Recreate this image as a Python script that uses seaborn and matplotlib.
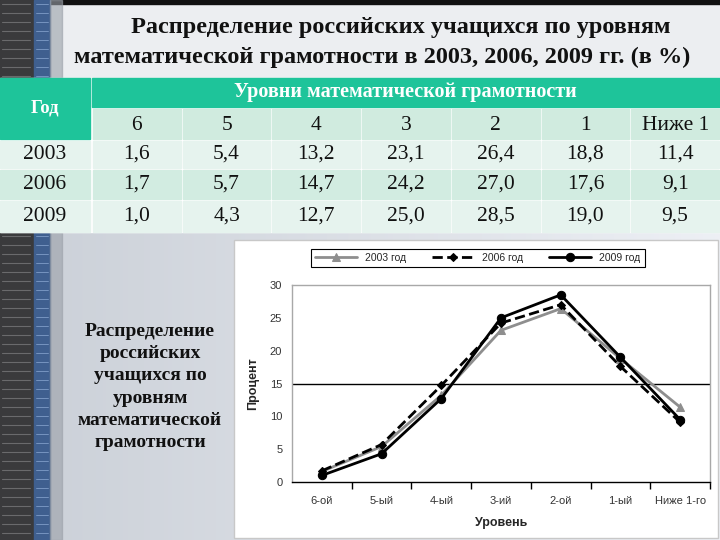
import matplotlib
matplotlib.use("Agg")
import matplotlib.pyplot as plt
import seaborn as sns
import numpy as np
import pandas as pd
from matplotlib.patches import Rectangle

# data from the slide
levels_table = ["6", "5", "4", "3", "2", "1", "Ниже 1"]
levels_axis = ["6-ой", "5-ый", "4-ый", "3-ий", "2-ой", "1-ый", "Ниже 1-го"]
years = ["2003", "2006", "2009"]
v2003 = [1.6, 5.4, 13.2, 23.1, 26.4, 18.8, 11.4]
v2006 = [1.7, 5.7, 14.7, 24.2, 27.0, 17.6, 9.1]
v2009 = [1.0, 4.3, 12.7, 25.0, 28.5, 19.0, 9.5]
values = {"2003": v2003, "2006": v2006, "2009": v2009}

sns.set_style("white")
serif = ["Liberation Serif", "DejaVu Serif"]
sans = ["Liberation Sans", "DejaVu Sans"]
plt.rcParams["font.family"] = sans

fig = plt.figure(figsize=(7.2, 5.4), dpi=100)

# background layer in pixel coordinates
bg = fig.add_axes([0, 0, 1, 1], zorder=0)
bg.set_xlim(0, 720)
bg.set_ylim(540, 0)
bg.axis("off")
t = np.linspace(0, 1, 256)[None, :, None]
c0 = np.array([0.80, 0.82, 0.85])[None, None, :]
c1 = np.array([0.93, 0.94, 0.96])[None, None, :]
grad = np.repeat(c0 + (c1 - c0) * t, 8, axis=0)
bg.imshow(grad, extent=[40, 720, 540, 0], aspect="auto")
bg.add_patch(Rectangle((40, 0), 680, 78, color="#eceef1"))
bg.add_patch(Rectangle((0, 0), 720, 4, color="#111111"))
# left decorative strip
for y0, y1 in [(0, 78), (232, 540)]:
    bg.add_patch(Rectangle((0, y0), 34, y1 - y0, color="#3a3a3c"))
    bg.add_patch(Rectangle((34, y0), 16, y1 - y0, color="#3f5f8f"))
    bg.add_patch(Rectangle((50, y0), 12, y1 - y0, color="#9aa0a8", alpha=0.6))
    for yy in np.arange(y0 + 4, y1, 9):
        bg.plot([2, 30], [yy, yy], color="#6a6a6c", lw=0.8)
        bg.plot([36, 48], [yy, yy], color="#7f9cc8", lw=0.6)

# title
bg.text(401, 27, "Распределение российских учащихся по уровням", ha="center", va="center",
        fontsize=17.5, fontweight="bold", family=serif, color="#111111")
bg.text(382, 57, "математической грамотности в 2003, 2006, 2009 гг. (в %)", ha="center", va="center",
        fontsize=17.5, fontweight="bold", family=serif, color="#111111")

# table
teal = "#1ec49a"
bg.add_patch(Rectangle((0, 78), 720, 154, color="white"))
bg.add_patch(Rectangle((0, 78), 90, 61, color=teal))
bg.add_patch(Rectangle((92, 78), 628, 29, color=teal))
bg.text(45, 108, "Год", ha="center", va="center", fontsize=13.5, fontweight="bold", family=serif, color="white")
bg.text(405, 92, "Уровни математической грамотности", ha="center", va="center",
        fontsize=14.5, fontweight="bold", family=serif, color="white")
col_w = (720 - 92) / 7
row_y = [(141, 168), (170, 199), (201, 232)]
row_c = ["#e6f3ee", "#d2ece1", "#e6f3ee"]
for i, lab in enumerate(levels_table):
    x0 = 92 + i * col_w
    bg.add_patch(Rectangle((x0 + 1, 109), col_w - 2, 30, color="#d0ebdf"))
    bg.text(x0 + col_w / 2, 125, lab, ha="center", va="center", fontsize=15.5, family=serif, color="#111111")
for r, yr in enumerate(years):
    y0, y1 = row_y[r]
    bg.add_patch(Rectangle((0, y0), 90, y1 - y0, color=row_c[r]))
    bg.text(45, (y0 + y1) / 2, yr, ha="center", va="center", fontsize=15.5, family=serif, color="#111111")
    for i, v in enumerate(values[yr]):
        x0 = 92 + i * col_w
        bg.add_patch(Rectangle((x0 + 1, y0), col_w - 2, y1 - y0, color=row_c[r]))
        bg.text(x0 + col_w / 2, (y0 + y1) / 2, f"{v:.1f}".replace(".", ","), ha="center", va="center",
                fontsize=15.5, family=serif, color="#111111")

# side caption
bg.text(150, 387, "Распределение\nроссийских\nучащихся по\nуровням\nматематической\nграмотности",
        ha="center", va="center", fontsize=14, fontweight="bold", family=serif, linespacing=1.4,
        color="#111111")

# chart panel
bg.add_patch(Rectangle((234, 240), 484, 298, facecolor="white", edgecolor="#c8c8c8", lw=1))

df = pd.DataFrame({
    "pos": np.tile(np.arange(len(levels_axis)), 3),
    "value": v2003 + v2006 + v2009,
    "year": np.repeat([y + " год" for y in years], len(levels_axis)),
})

ax = fig.add_axes([292 / 720, 1 - 482 / 540, 418 / 720, 197 / 540], zorder=2)
styles = {
    "2003 год": dict(color="#8e8e8e", linestyle="-", marker="^", markersize=6),
    "2006 год": dict(color="black", linestyle="--", marker="D", markersize=4),
    "2009 год": dict(color="black", linestyle="-", marker="o", markersize=6),
}
for name, st in styles.items():
    sns.lineplot(data=df[df["year"] == name], x="pos", y="value", ax=ax, linewidth=2,
                 label=name, markeredgecolor=st["color"], **st)

ax.axhline(15, color="black", lw=1, zorder=0)
ax.set_xlim(-0.5, 6.5)
ax.set_ylim(0, 30)
ax.set_yticks(range(0, 31, 5))
ax.set_xticks(range(len(levels_axis)))
ax.set_xticklabels(levels_axis)
ax.set_xticks(np.arange(0.5, 6.6, 1), minor=True)
ax.tick_params(axis="y", length=0, pad=7, labelsize=8, labelcolor="#333333")
ax.tick_params(axis="x", which="major", length=0, pad=10, labelsize=8, labelcolor="#333333")
ax.tick_params(axis="x", which="minor", length=5, width=1, color="black", direction="out", bottom=True)
for s in ["left", "top", "right"]:
    ax.spines[s].set_color("#a8a8a8")
    ax.spines[s].set_linewidth(1)
ax.spines["bottom"].set_color("black")
ax.spines["bottom"].set_linewidth(1)
ax.set_ylabel("Процент", fontsize=9, fontweight="bold", labelpad=8)
ax.set_xlabel("Уровень", fontsize=9, fontweight="bold", labelpad=8)

handles, labels = ax.get_legend_handles_labels()
ax.legend(handles, labels, loc="center", bbox_to_anchor=(478 / 720, 1 - 258 / 540),
          bbox_transform=fig.transFigure, ncol=3, frameon=True, fancybox=False,
          edgecolor="black", fontsize=7.5, handlelength=4, columnspacing=2.5,
          borderpad=0.4, framealpha=1)
ax.get_legend().get_frame().set_linewidth(0.8)

fig.savefig("out.png", dpi=100)
